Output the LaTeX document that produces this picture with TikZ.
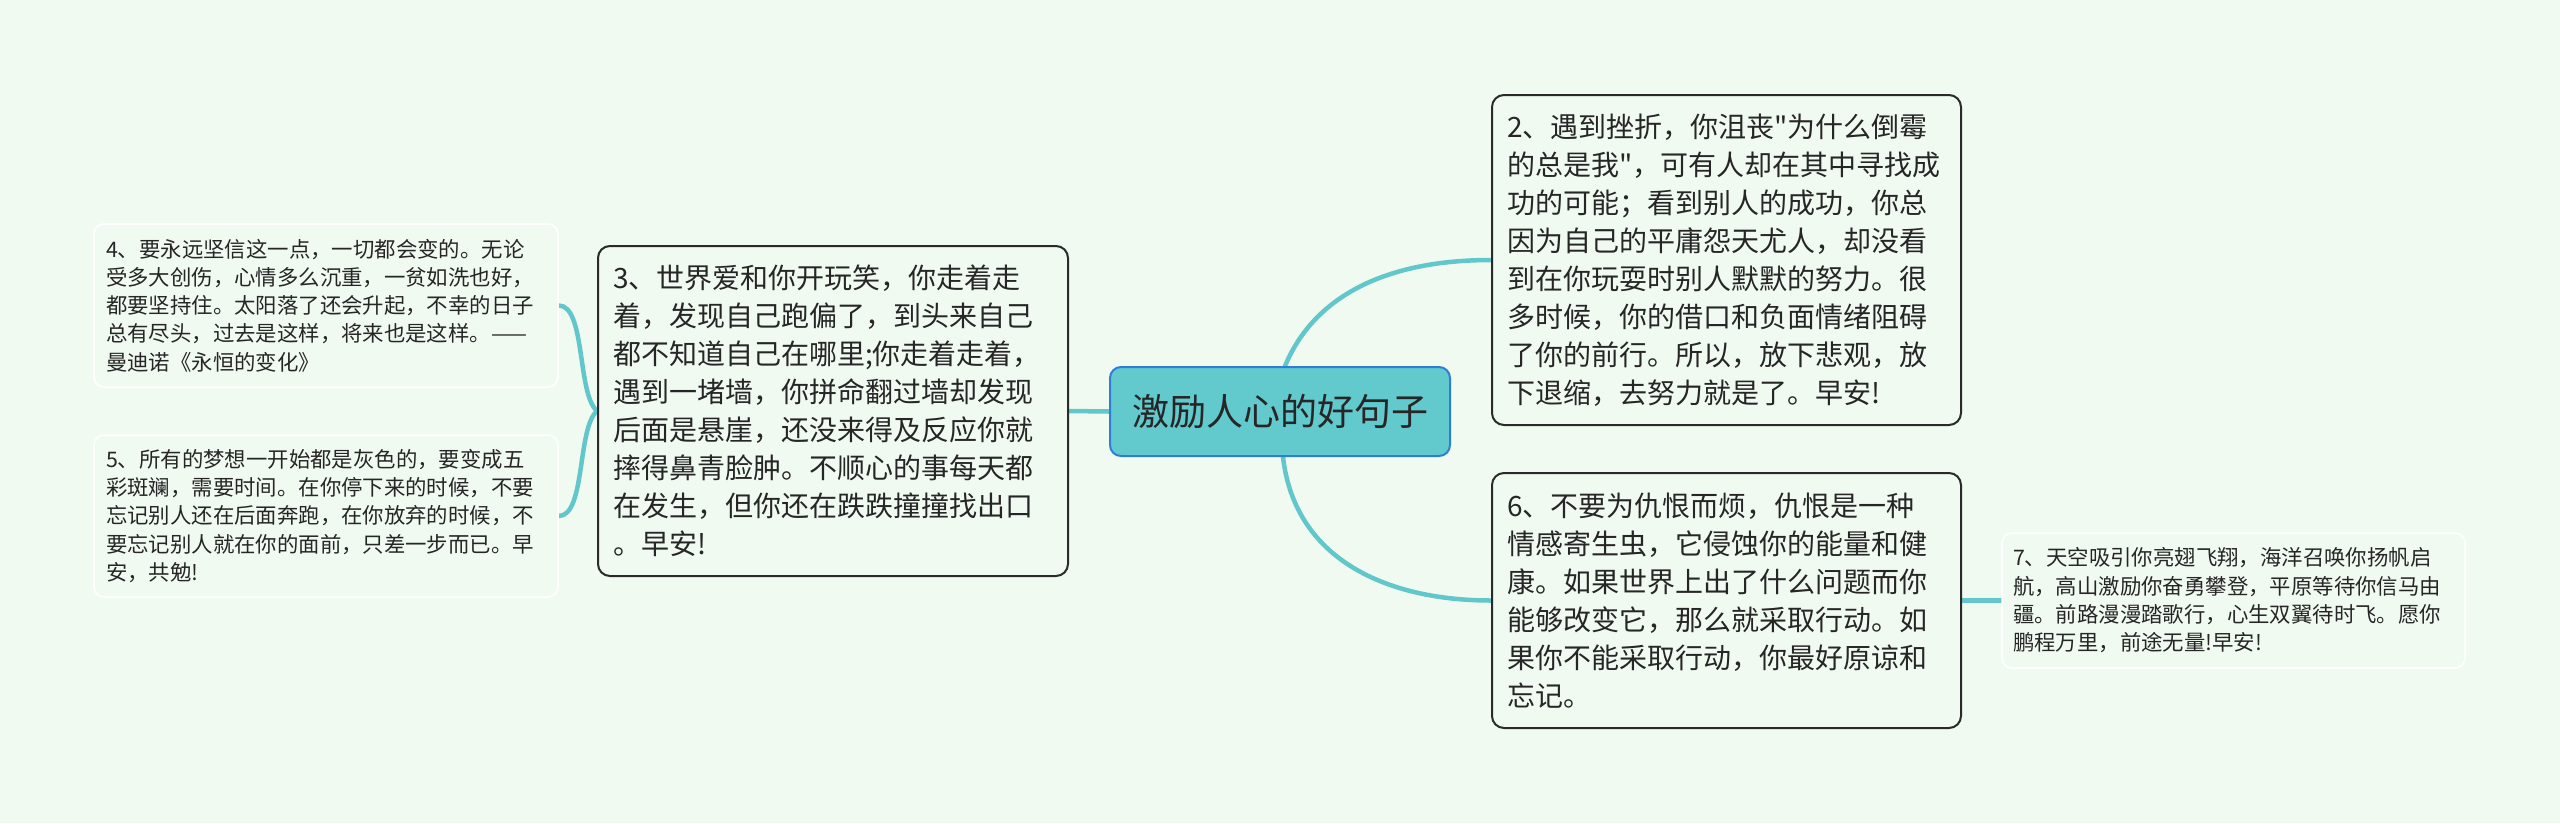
\documentclass[tikz,border=0pt]{standalone}
\usepackage{fontspec}
\setmainfont{Noto Sans CJK SC}[Ligatures=TeXOff]
\definecolor{bg}{HTML}{F1FAF1}
\definecolor{teal}{HTML}{62C7CB}
\definecolor{cfill}{HTML}{62C9CD}
\definecolor{cline}{HTML}{2F7ED6}
\definecolor{boxline}{HTML}{2A2A2A}
\definecolor{txt}{HTML}{262626}
\pgfdeclarelayer{bgl}
\pgfdeclarelayer{back}
\pgfsetlayers{bgl,back,main}
\tikzset{
  mainbox/.style={draw=boxline, line width=2pt, rounded corners=12pt, fill=bg, text=txt,
    align=left, inner xsep=15pt, inner ysep=0pt, font=\fontsize{28pt}{38pt}\selectfont},
  smallbox/.style={draw=white, line width=1.5pt, rounded corners=10pt, fill=bg, text=txt,
    align=left, inner xsep=12pt, inner ysep=0pt, font=\fontsize{21.4pt}{28.3pt}\selectfont},
  centerbox/.style={draw=cline, line width=2pt, rounded corners=11pt, fill=cfill, text=txt,
    align=center, inner sep=0pt, minimum width=340pt, minimum height=89pt,
    font=\fontsize{37pt}{44pt}\selectfont},
  conn/.style={draw=teal, line width=4.5pt, line cap=round}
}
\begin{document}
\begin{tikzpicture}[x=1pt,y=-1pt]
\begin{pgfonlayer}{bgl}
\useasboundingbox[fill=bg] (0,0) rectangle (2560,823);
\end{pgfonlayer}

\node[centerbox] (c) at (1280,411.5) {激励人心的好句子};

\node[mainbox, text width=440pt, minimum height=330pt] (n3) at (833,411) {%
3、世界爱和你开玩笑，你走着走\\
着，发现自己跑偏了，到头来自己\\
都不知道自己在哪里;你走着走着，\\
遇到一堵墙，你拼命翻过墙却发现\\
后面是悬崖，还没来得及反应你就\\
摔得鼻青脸肿。不顺心的事每天都\\
在发生，但你还在跌跌撞撞找出口\\
。早安!};

\node[mainbox, text width=439pt, minimum height=330pt] (n2) at (1726.5,260) {%
2、遇到挫折，你沮丧"为什么倒霉\\
的总是我"，可有人却在其中寻找成\\
功的可能；看到别人的成功，你总\\
因为自己的平庸怨天尤人，却没看\\
到在你玩耍时别人默默的努力。很\\
多时候，你的借口和负面情绪阻碍\\
了你的前行。所以，放下悲观，放\\
下退缩，去努力就是了。早安!};

\node[mainbox, text width=439pt, minimum height=255pt] (n6) at (1726.5,600.5) {%
6、不要为仇恨而烦，仇恨是一种\\
情感寄生虫，它侵蚀你的能量和健\\
康。如果世界上出了什么问题而你\\
能够改变它，那么就采取行动。如\\
果你不能采取行动，你最好原谅和\\
忘记。};

\node[smallbox, text width=440pt, minimum height=163pt] (n4) at (326,305.5) {%
4、要永远坚信这一点，一切都会变的。无论\\
受多大创伤，心情多么沉重，一贫如洗也好，\\
都要坚持住。太阳落了还会升起，不幸的日子\\
总有尽头，过去是这样，将来也是这样。——\\
曼迪诺《永恒的变化》};

\node[smallbox, text width=440pt, minimum height=162pt] (n5) at (326,516) {%
5、所有的梦想一开始都是灰色的，要变成五\\
彩斑斓，需要时间。在你停下来的时候，不要\\
忘记别人还在后面奔跑，在你放弃的时候，不\\
要忘记别人就在你的面前，只差一步而已。早\\
安，共勉!};

\node[smallbox, text width=441pt, inner xsep=11pt, minimum height=135pt] (n7) at (2233.5,600.5) {%
7、天空吸引你亮翅飞翔，海洋召唤你扬帆启\\
航，高山激励你奋勇攀登，平原等待你信马由\\
疆。前路漫漫踏歌行，心生双翼待时飞。愿你\\
鹏程万里，前途无量!早安!};

\begin{pgfonlayer}{back}
\draw[conn] (c.west) -- (n3.east);
\draw[conn] ([xshift=5pt]c.center) -- ([xshift=5pt]c.north) .. controls +(30,-72) and +(-102,0) .. (n2.west);
\draw[conn] ([xshift=3pt]c.center) -- ([xshift=3pt]c.south) .. controls +(12,104) and +(-102,0) .. (n6.west);
\draw[conn] (n6.east) -- (n7.west);
\draw[conn] (n3.west) .. controls +(-20,-17) and +(27,0) .. (n4.east);
\draw[conn] (n3.west) .. controls +(-20,17) and +(27,0) .. (n5.east);
\end{pgfonlayer}
\end{tikzpicture}
\end{document}
